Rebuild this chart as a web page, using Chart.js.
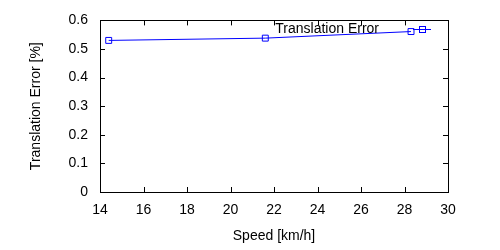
<!DOCTYPE html>
<html>
<head>
<meta charset="utf-8">
<script src="https://cdn.jsdelivr.net/npm/chart.js@4.4.0/dist/chart.umd.min.js"></script>
<style>
html,body{margin:0;padding:0;background:#fff;}
#wrap{width:500px;height:250px;}
</style>
</head>
<body>
<div id="wrap"><canvas id="c" width="500" height="250"></canvas></div>
<script>
const speeds = [14.4, 21.6, 28.3];
const errors = [0.530, 0.538, 0.561];
const seriesName = 'Translation Error';
const xTicks = [14, 16, 18, 20, 22, 24, 26, 28, 30];
const yTicks = [0, 0.1, 0.2, 0.3, 0.4, 0.5, 0.6];

const FONT = 'Liberation Sans, Arial, sans-serif';
const FS = 14;

const frame = {
  id: 'frame',
  afterDatasetsDraw(chart) {
    const {ctx, chartArea: a, scales} = chart;
    ctx.save();
    ctx.strokeStyle = '#000';
    ctx.lineWidth = 1;
    ctx.beginPath();
    const L = 5;
    xTicks.forEach(v => {
      const px = Math.round(scales.x.getPixelForValue(v)) + 0.5;
      ctx.moveTo(px, a.bottom); ctx.lineTo(px, a.bottom - L);
      ctx.moveTo(px, a.top); ctx.lineTo(px, a.top + L);
    });
    yTicks.forEach(v => {
      const py = Math.round(scales.y.getPixelForValue(v)) + 0.5;
      ctx.moveTo(a.left, py); ctx.lineTo(a.left + L, py);
      ctx.moveTo(a.right, py); ctx.lineTo(a.right - L, py);
    });
    ctx.stroke();
    ctx.strokeRect(Math.round(a.left) + 0.5, Math.round(a.top) + 0.5,
                   Math.round(a.right - a.left), Math.round(a.bottom - a.top));
    // legend inside
    const ds = chart.data.datasets[0];
    ctx.font = FS + 'px ' + FONT;
    ctx.fillStyle = '#000';
    ctx.textAlign = 'right';
    ctx.textBaseline = 'middle';
    const ly = 29;
    ctx.fillText(ds.label, 379, ly);
    ctx.strokeStyle = ds.borderColor;
    ctx.beginPath();
    ctx.moveTo(413, ly + 0.5); ctx.lineTo(431, ly + 0.5);
    ctx.stroke();
    ctx.strokeRect(419.5, ly - 2.5, 6, 6);
    ctx.restore();
  }
};

new Chart(document.getElementById('c'), {
  type: 'line',
  data: {
    datasets: [{
      label: seriesName,
      data: speeds.map((s, i) => ({x: s, y: errors[i]})),
      borderColor: '#0000ff',
      backgroundColor: 'rgba(0,0,0,0)',
      borderWidth: 1,
      pointStyle: 'rect',
      pointRadius: 4.2,
      pointBorderWidth: 1,
      pointBorderColor: '#0000ff',
      pointBackgroundColor: 'rgba(0,0,0,0)',
      tension: 0,
      fill: false
    }]
  },
  options: {
    responsive: false,
    animation: false,
    devicePixelRatio: 1,
    layout: {padding: {top: 18, right: 52, left: 0, bottom: 0}},
    plugins: {legend: {display: false}, tooltip: {enabled: false}},
    scales: {
      x: {
        type: 'linear', min: 14, max: 30,
        afterFit(s) { s.height = 58; },
        afterBuildTicks(s) { s.ticks = xTicks.map(v => ({value: v})); },
        grid: {display: false, drawTicks: false},
        border: {display: false},
        ticks: {color: '#000', font: {family: FONT, size: FS}, padding: 10, maxRotation: 0},
        title: {display: true, text: 'Speed [km/h]', color: '#000',
                font: {family: FONT, size: FS}, padding: {top: 0, bottom: 5}}
      },
      y: {
        min: 0, max: 0.6,
        afterFit(s) { s.width = 100; },
        afterBuildTicks(s) { s.ticks = yTicks.map(v => ({value: v})); },
        grid: {display: false, drawTicks: false},
        border: {display: false},
        ticks: {color: '#000', font: {family: FONT, size: FS}, padding: 12,
                callback: v => String(v)},
        title: {display: true, text: 'Translation Error [%]', color: '#000',
                font: {family: FONT, size: FS}, padding: {top: 28, bottom: 0}}
      }
    }
  },
  plugins: [frame]
});
</script>
</body>
</html>
